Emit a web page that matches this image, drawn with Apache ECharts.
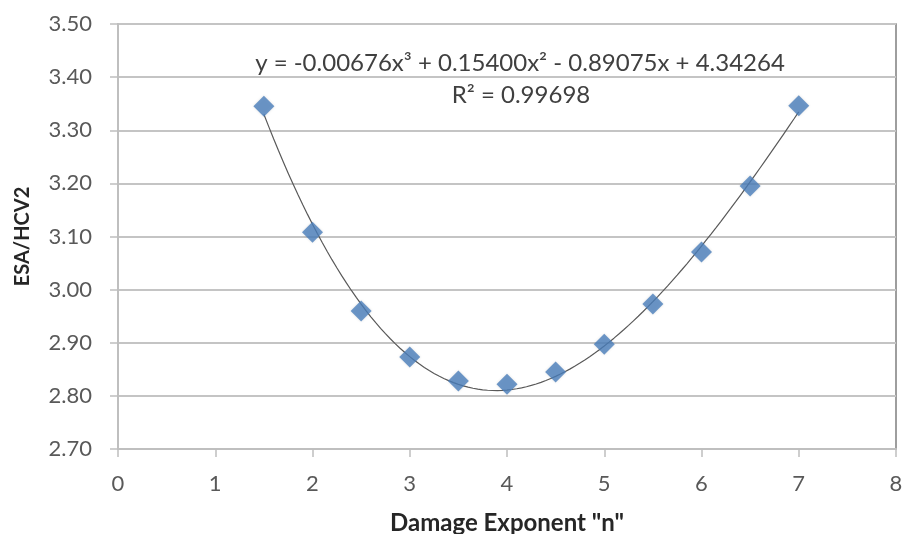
<!DOCTYPE html>
<html>
<head>
<meta charset="utf-8">
<script src="https://cdn.jsdelivr.net/npm/echarts@6/dist/echarts.min.js"></script>
<style>
  html, body { margin: 0; padding: 0; background: #fff; }
  #chart { width: 906px; height: 534px; }
</style>
</head>
<body>
<div id="chart"></div>
<script>
// Damage exponent n and the resulting ESA/HCV2 ratio
const exponents = [1.5, 2, 2.5, 3, 3.5, 4, 4.5, 5, 5.5, 6, 6.5, 7];
const esaRatio = [3.345, 3.108, 2.960, 2.873, 2.828, 2.822, 2.845, 2.897, 2.973, 3.071, 3.195, 3.346];

// Cubic trendline coefficients (x^3, x^2, x, constant) and fit quality
const trendCoefs = [-0.00676, 0.15400, -0.89075, 4.34264];
const rSquared = 0.99698;

const xTicks = [0, 1, 2, 3, 4, 5, 6, 7, 8];
const yTicks = [2.70, 2.80, 2.90, 3.00, 3.10, 3.20, 3.30, 3.40, 3.50];

// Trendline samples across the data range
const trendPoints = [];
const x0 = exponents[0], x1 = exponents[exponents.length - 1];
for (let i = 0; i <= 110; i++) {
  const x = x0 + (x1 - x0) * i / 110;
  const y = ((trendCoefs[0] * x + trendCoefs[1]) * x + trendCoefs[2]) * x + trendCoefs[3];
  trendPoints.push([x, y]);
}

const fmt = v => v.toFixed(5);
const sign = v => (v < 0 ? ' - ' : ' + ') + fmt(Math.abs(v));
const eqText = 'y = ' + fmt(trendCoefs[0]) + 'x³' + sign(trendCoefs[1]) + 'x²' +
  sign(trendCoefs[2]) + 'x' + sign(trendCoefs[3]);
const r2Text = 'R² = ' + fmt(rSquared);

const font = 'Lato, "Open Sans", sans-serif';
const chart = echarts.init(document.getElementById('chart'));
chart.setOption({
  animation: false,
  backgroundColor: '#fff',
  grid: {
    left: 118, right: 10, top: 24, bottom: 85,
    containLabel: false, outerBoundsMode: 'none',
    show: true, borderColor: '#7f7f7f', borderWidth: 1.5
  },
  graphic: [
    { type: 'text', x: 520, y: 63, style: { text: eqText, font: '24px ' + font, fill: '#404040', align: 'center', verticalAlign: 'middle' } },
    { type: 'text', x: 521, y: 95, style: { text: r2Text, font: '24px ' + font, fill: '#404040', align: 'center', verticalAlign: 'middle' } }
  ],
  xAxis: {
    type: 'value', min: xTicks[0], max: xTicks[xTicks.length - 1], interval: 1,
    name: 'Damage Exponent "n"', nameLocation: 'middle', nameGap: 62,
    nameTextStyle: { fontFamily: font, fontSize: 24, fontWeight: 'bold', color: '#262626' },
    axisLine: { show: true, onZero: false, lineStyle: { color: '#bfbfbf', width: 2 } },
    axisTick: { show: true, length: 8, lineStyle: { color: '#bfbfbf', width: 1.5 } },
    axisLabel: { fontFamily: font, fontSize: 22, color: '#595959', margin: 24 },
    splitLine: { show: false }
  },
  yAxis: {
    type: 'value', min: yTicks[0], max: yTicks[yTicks.length - 1], interval: 0.1,
    name: 'ESA/HCV2', nameLocation: 'middle', nameGap: 85, nameRotate: 90,
    nameTextStyle: { fontFamily: font, fontSize: 20, fontWeight: 'bold', color: '#262626' },
    axisLine: { show: true, lineStyle: { color: '#bfbfbf', width: 2 } },
    axisTick: { show: true, length: 8, lineStyle: { color: '#bfbfbf', width: 1.5 } },
    axisLabel: { fontFamily: font, fontSize: 22, color: '#595959', margin: 26, formatter: v => v.toFixed(2) },
    splitLine: { show: true, lineStyle: { color: '#c4c4c4', width: 2 } }
  },
  series: [
    {
      type: 'line', data: trendPoints, showSymbol: false, smooth: false,
      lineStyle: { color: '#595959', width: 1.2 }, z: 2, silent: true
    },
    {
      type: 'scatter', data: exponents.map((x, i) => [x, esaRatio[i]]),
      symbol: 'diamond', symbolSize: [21, 21],
      itemStyle: { color: '#4a7ebb', shadowColor: 'rgba(0,0,0,0.15)', shadowBlur: 3 }, z: 3
    }
  ]
});
</script>
</body>
</html>
